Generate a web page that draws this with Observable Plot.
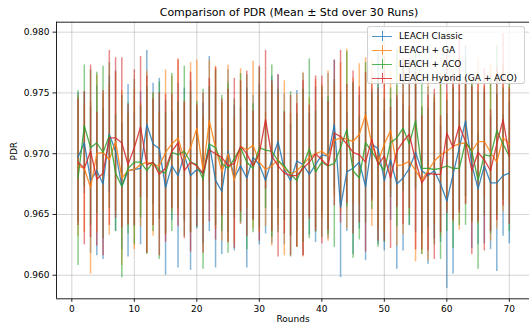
<!DOCTYPE html>
<html><head><meta charset="utf-8">
<script src="https://cdn.jsdelivr.net/npm/d3@7"></script>
<script src="https://cdn.jsdelivr.net/npm/@observablehq/plot@0.6"></script>
<style>
body{margin:0;background:#fff;font-family:"DejaVu Sans",sans-serif;}
#wrap{position:relative;width:529px;height:330px;overflow:hidden;}
#title{position:absolute;left:289px;top:5px;transform:translateX(-50%);font-size:11px;white-space:nowrap;color:#000;line-height:16px;}
#legend{position:absolute;left:367px;top:26px;width:158px;height:58px;border:1px solid rgba(204,204,204,0.9);border-radius:3px;background:rgba(255,255,255,0.8);box-sizing:border-box;}
.row{position:absolute;left:0;height:14px;font-size:9px;line-height:14px;color:#000;white-space:nowrap;}
.hl{position:absolute;left:4px;top:6.5px;width:20px;height:1.5px;}
.vl{position:absolute;left:13.5px;top:2px;width:1.5px;height:10px;}
.tx{position:absolute;left:31px;top:0;}
</style></head><body>
<div id="wrap"><div id="chart"></div><div id="title">Comparison of PDR (Mean ± Std over 30 Runs)</div><div id="legend"></div></div>
<script>
const seriesNames = ["LEACH Classic","LEACH + GA","LEACH + ACO","LEACH Hybrid (GA + ACO)"];
const seriesColors = ["#1f77b4","#ff7f0e","#2ca02c","#d62728"];
const rounds = d3.range(1, 71);
const xTicks = [0,10,20,30,40,50,60,70];
const yTicks = [0.960,0.965,0.970,0.975,0.980];

const classicMean = [
0.9697,0.9709,0.9678,0.9686,0.9675,0.9716,0.9702,0.9673,0.9686,0.9687,
0.9688,0.9724,0.9708,0.9704,0.9672,0.9690,0.9682,0.9699,0.9682,0.9687,
0.9684,0.9708,0.9678,0.9669,0.9702,0.9680,0.9690,0.9680,0.9697,0.9691,
0.9678,0.9695,0.9710,0.9687,0.9678,0.9694,0.9691,0.9683,0.9691,0.9699,
0.9698,0.9724,0.9656,0.9685,0.9688,0.9693,0.9673,0.9708,0.9704,0.9678,
0.9695,0.9675,0.9680,0.9688,0.9701,0.9686,0.9682,0.9686,0.9675,0.9661,
0.9683,0.9705,0.9727,0.9691,0.9671,0.9690,0.9676,0.9676,0.9682,0.9684];
const classicStd = [
0.0053,0.0042,0.0060,0.0070,0.0062,0.0048,0.0066,0.0052,0.0071,0.0047,
0.0063,0.0061,0.0050,0.0058,0.0072,0.0045,0.0076,0.0055,0.0078,0.0049,
0.0058,0.0072,0.0072,0.0052,0.0067,0.0060,0.0048,0.0074,0.0051,0.0066,
0.0044,0.0069,0.0055,0.0062,0.0046,0.0058,0.0075,0.0050,0.0064,0.0047,
0.0068,0.0053,0.0058,0.0049,0.0071,0.0055,0.0061,0.0045,0.0079,0.0058,
0.0050,0.0070,0.0060,0.0047,0.0066,0.0052,0.0073,0.0056,0.0048,0.0072,
0.0082,0.0051,0.0062,0.0069,0.0046,0.0064,0.0055,0.0073,0.0050,0.0058];

const gaMean = [
0.9690,0.9688,0.9672,0.9700,0.9701,0.9695,0.9710,0.9680,0.9686,0.9687,
0.9691,0.9693,0.9691,0.9690,0.9701,0.9708,0.9713,0.9695,0.9705,0.9721,
0.9686,0.9727,0.9705,0.9685,0.9700,0.9678,0.9706,0.9703,0.9707,0.9693,
0.9687,0.9690,0.9695,0.9688,0.9683,0.9686,0.9691,0.9697,0.9700,0.9702,
0.9698,0.9711,0.9713,0.9712,0.9710,0.9716,0.9732,0.9708,0.9693,0.9708,
0.9719,0.9690,0.9691,0.9694,0.9686,0.9678,0.9686,0.9694,0.9699,0.9702,
0.9706,0.9708,0.9709,0.9702,0.9710,0.9710,0.9701,0.9693,0.9713,0.9708];
const gaStd = [
0.0058,0.0053,0.0071,0.0065,0.0048,0.0062,0.0057,0.0072,0.0046,0.0066,
0.0051,0.0075,0.0059,0.0044,0.0068,0.0056,0.0064,0.0049,0.0070,0.0056,
0.0045,0.0050,0.0067,0.0057,0.0073,0.0052,0.0064,0.0048,0.0069,0.0058,
0.0047,0.0066,0.0054,0.0072,0.0050,0.0063,0.0076,0.0049,0.0061,0.0055,
0.0070,0.0046,0.0062,0.0074,0.0052,0.0058,0.0047,0.0068,0.0055,0.0072,
0.0049,0.0066,0.0058,0.0045,0.0075,0.0061,0.0074,0.0052,0.0067,0.0048,
0.0063,0.0071,0.0050,0.0059,0.0068,0.0046,0.0073,0.0055,0.0061,0.0049];

const acoMean = [
0.9680,0.9723,0.9705,0.9709,0.9701,0.9715,0.9684,0.9673,0.9688,0.9693,
0.9693,0.9686,0.9693,0.9686,0.9684,0.9701,0.9699,0.9702,0.9693,0.9691,
0.9679,0.9708,0.9705,0.9692,0.9688,0.9696,0.9705,0.9693,0.9688,0.9705,
0.9703,0.9702,0.9694,0.9690,0.9683,0.9678,0.9690,0.9704,0.9685,0.9693,
0.9690,0.9692,0.9705,0.9720,0.9686,0.9680,0.9709,0.9702,0.9693,0.9686,
0.9709,0.9713,0.9721,0.9708,0.9727,0.9688,0.9688,0.9687,0.9688,0.9690,
0.9688,0.9688,0.9710,0.9702,0.9678,0.9699,0.9698,0.9719,0.9708,0.9698];
const acoStd = [
0.0072,0.0050,0.0064,0.0058,0.0071,0.0060,0.0048,0.0075,0.0054,0.0068,
0.0046,0.0069,0.0057,0.0073,0.0050,0.0065,0.0044,0.0070,0.0058,0.0052,
0.0074,0.0047,0.0064,0.0056,0.0070,0.0049,0.0061,0.0072,0.0053,0.0066,
0.0048,0.0071,0.0059,0.0045,0.0068,0.0055,0.0063,0.0074,0.0050,0.0062,
0.0057,0.0069,0.0046,0.0064,0.0072,0.0051,0.0066,0.0048,0.0070,0.0059,
0.0045,0.0073,0.0052,0.0067,0.0056,0.0071,0.0049,0.0062,0.0075,0.0054,
0.0066,0.0047,0.0069,0.0058,0.0073,0.0051,0.0064,0.0070,0.0046,0.0062];

const hybridMean = [
0.9693,0.9688,0.9702,0.9679,0.9684,0.9713,0.9713,0.9709,0.9691,0.9705,
0.9722,0.9691,0.9693,0.9683,0.9688,0.9702,0.9709,0.9686,0.9693,0.9690,
0.9684,0.9703,0.9700,0.9697,0.9690,0.9692,0.9706,0.9700,0.9690,0.9700,
0.9728,0.9698,0.9690,0.9684,0.9682,0.9682,0.9688,0.9693,0.9700,0.9695,
0.9690,0.9717,0.9714,0.9708,0.9701,0.9699,0.9693,0.9712,0.9691,0.9698,
0.9680,0.9702,0.9710,0.9716,0.9694,0.9676,0.9684,0.9683,0.9683,0.9717,
0.9705,0.9723,0.9710,0.9686,0.9701,0.9695,0.9686,0.9708,0.9728,0.9698];
const hybridStd = [
0.0052,0.0063,0.0071,0.0055,0.0068,0.0072,0.0066,0.0070,0.0049,0.0064,
0.0058,0.0073,0.0052,0.0067,0.0061,0.0047,0.0069,0.0056,0.0074,0.0050,
0.0066,0.0059,0.0071,0.0048,0.0063,0.0070,0.0054,0.0068,0.0045,0.0072,
0.0057,0.0062,0.0075,0.0050,0.0066,0.0059,0.0072,0.0047,0.0064,0.0069,
0.0053,0.0060,0.0071,0.0049,0.0067,0.0056,0.0074,0.0051,0.0063,0.0070,
0.0058,0.0046,0.0068,0.0061,0.0073,0.0055,0.0064,0.0070,0.0048,0.0066,
0.0060,0.0072,0.0052,0.0069,0.0057,0.0075,0.0050,0.0063,0.0071,0.0056];

const means = [classicMean, gaMean, acoMean, hybridMean];
const stds = [classicStd, gaStd, acoStd, hybridStd];
const table = [];
seriesNames.forEach((name, s) => {
  rounds.forEach((r, i) => table.push({series: name, round: r, mean: means[s][i], std: stds[s][i]}));
});

const xDom = [-2.45, 73.23];
const yDom = [0.95806, 0.98082];
const marks = [
  Plot.gridX(xTicks, {stroke: "#b0b0b0", strokeOpacity: 0.55, strokeWidth: 1}),
  Plot.gridY(yTicks, {stroke: "#b0b0b0", strokeOpacity: 0.55, strokeWidth: 1}),
];
seriesNames.forEach((name, s) => {
  marks.push(Plot.ruleX(table.filter(d => d.series === name), {
    x: "round", y1: d => d.mean - d.std, y2: d => d.mean + d.std,
    stroke: seriesColors[s], strokeWidth: 1.5, strokeOpacity: 0.55
  }));
});
seriesNames.forEach((name, s) => {
  marks.push(Plot.line(table.filter(d => d.series === name), {
    x: "round", y: "mean", stroke: seriesColors[s], strokeWidth: 1.3, strokeOpacity: 0.85
  }));
});
marks.push(
  Plot.axisX(xTicks, {tickSize: 3.5, tickPadding: 3, fontSize: 9, label: null, stroke: "#222", color: "#000"}),
  Plot.axisY(yTicks, {tickSize: 3.5, tickPadding: 3.5, fontSize: 9, label: null, tickFormat: d3.format(".3f"), stroke: "#222", color: "#000"}),
  Plot.ruleX([xDom[0]], {stroke: "#222", strokeWidth: 1}),
  Plot.ruleY([yDom[0]], {stroke: "#222", strokeWidth: 1}),
  Plot.ruleY([yDom[1]], {stroke: "#222", strokeWidth: 1}),
  Plot.text(["Rounds"], {frameAnchor: "bottom", dy: 23, fontSize: 9, fill: "#000"}),
  Plot.text(["PDR"], {frameAnchor: "left", dx: -42, rotate: -90, fontSize: 9, fill: "#000"})
);

const chart = Plot.plot({
  width: 529, height: 330,
  marginLeft: 56, marginRight: 0, marginTop: 21.7, marginBottom: 31.7,
  style: {fontFamily: "DejaVu Sans, sans-serif", background: "#fff", overflow: "visible"},
  x: {domain: xDom},
  y: {domain: yDom},
  marks
});
document.getElementById("chart").appendChild(chart);

const legend = document.getElementById("legend");
seriesNames.forEach((name, s) => {
  const row = document.createElement("div");
  row.className = "row";
  row.style.top = (2 + s * 14) + "px";
  row.style.width = "100%";
  row.innerHTML = `<span class="hl" style="background:${seriesColors[s]};opacity:0.8"></span><span class="vl" style="background:${seriesColors[s]};opacity:0.8"></span><span class="tx">${name}</span>`;
  legend.appendChild(row);
});
</script>
</body></html>
